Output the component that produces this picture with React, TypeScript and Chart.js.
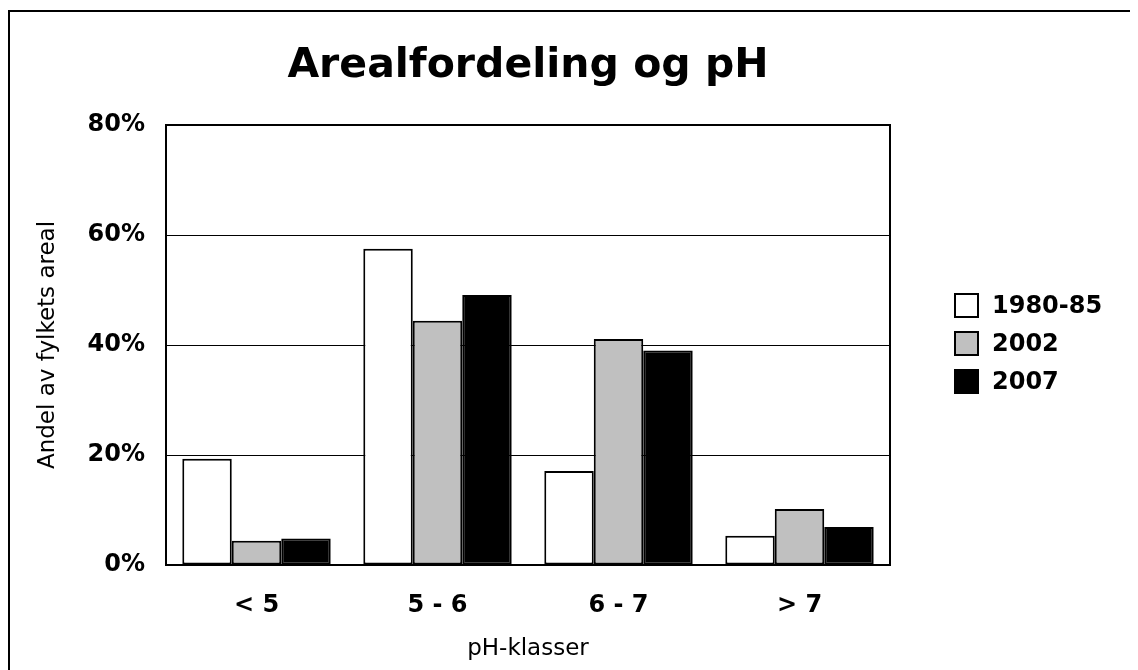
import React, { useEffect, useRef } from "react";
import { Chart, registerables } from "chart.js";

Chart.register(...registerables);

const categories = ["< 5", "5 - 6", "6 - 7", "> 7"];
const seriesNames = ["1980-85", "2002", "2007"];
const values1980 = [19.3, 57.5, 17.1, 5.3];
const values2002 = [4.4, 44.4, 41.1, 10.2];
const values2007 = [4.8, 49.1, 39.0, 6.9];
const seriesColors = ["#ffffff", "#c0c0c0", "#000000"];
const yTicks = [0, 20, 40, 60, 80];
const titleText = "Arealfordeling og pH";
const xTitle = "pH-klasser";
const yTitle = "Andel av fylkets areal";

const FONT = "'DejaVu Sans', Verdana, sans-serif";

const framePlugin = {
  id: "frame",
  beforeDraw(chart: any) {
    const ctx = chart.ctx;
    ctx.save();
    ctx.fillStyle = "#ffffff";
    ctx.fillRect(0, 0, chart.width, chart.height);
    ctx.fillStyle = "#000000";
    ctx.fillRect(0, 2, chart.width, 2);
    ctx.fillRect(0, 2, 2, chart.height);
    ctx.restore();
  },
  afterDatasetsDraw(chart: any) {
    const { ctx, chartArea } = chart;
    ctx.save();
    ctx.strokeStyle = "#000000";
    ctx.lineWidth = 2;
    ctx.strokeRect(
      chartArea.left,
      chartArea.top,
      chartArea.right - chartArea.left,
      chartArea.bottom - chartArea.top
    );
    ctx.restore();
  },
  afterDraw(chart: any) {
    const { ctx, chartArea } = chart;
    ctx.save();
    // title
    ctx.fillStyle = "#000000";
    ctx.font = `bold 41px ${FONT}`;
    ctx.textAlign = "center";
    ctx.textBaseline = "alphabetic";
    ctx.fillText(titleText, (chartArea.left + chartArea.right) / 2, 69);
    // legend
    const boxX = 946;
    const top0 = 285;
    const step = 38;
    const box = 25;
    chart.data.datasets.forEach((ds: any, i: number) => {
      const y = top0 + i * step;
      ctx.fillStyle = ds.backgroundColor;
      ctx.fillRect(boxX, y, box, box);
      ctx.strokeStyle = "#000000";
      ctx.lineWidth = 2;
      ctx.strokeRect(boxX + 1, y + 1, box - 2, box - 2);
      ctx.fillStyle = "#000000";
      ctx.font = `bold 24px ${FONT}`;
      ctx.textAlign = "left";
      ctx.textBaseline = "middle";
      ctx.fillText(ds.label, 984, y + box / 2 + 1);
    });
    ctx.restore();
  },
};

export default function App() {
  const ref = useRef<HTMLCanvasElement | null>(null);

  useEffect(() => {
    if (!ref.current) return;
    const allValues = [values1980, values2002, values2007];
    const chart = new Chart(ref.current, {
      type: "bar",
      data: {
        labels: categories,
        datasets: seriesNames.map((name, i) => ({
          label: name,
          data: allValues[i],
          backgroundColor: seriesColors[i],
          borderColor: "#000000",
          borderWidth: 2,
          borderSkipped: false,
          categoryPercentage: 0.82,
          barPercentage: 1,
        })),
      },
      options: {
        animation: false,
        responsive: false,
        devicePixelRatio: 1,
        layout: { padding: { left: 0, right: 248, top: 117, bottom: 0 } },
        plugins: {
          legend: { display: false },
          title: { display: false },
          tooltip: { enabled: false },
        },
        scales: {
          x: {
            grid: { display: false, drawTicks: false },
            border: { display: false },
            ticks: {
              color: "#000000",
              padding: 26,
              font: { family: FONT, size: 24, weight: "bold" },
            },
            title: {
              display: true,
              text: xTitle,
              color: "#000000",
              padding: { top: 0, bottom: 7 },
              font: { family: FONT, size: 23, weight: "normal" },
            },
            afterFit: (s: any) => {
              s.height = 105;
            },
          },
          y: {
            min: 0,
            max: 80,
            afterBuildTicks: (s: any) => {
              s.ticks = yTicks.map((v) => ({ value: v }));
            },
            grid: { color: "#000000", lineWidth: 1, drawTicks: false },
            border: { display: false },
            ticks: {
              color: "#000000",
              padding: 21,
              font: { family: FONT, size: 24, weight: "bold" },
              callback: (v: any) => `${v}%`,
            },
            title: {
              display: true,
              text: yTitle,
              color: "#000000",
              padding: { top: 26, bottom: 0 },
              font: { family: FONT, size: 23, weight: "normal" },
            },
            afterFit: (s: any) => {
              s.width = 158;
            },
          },
        },
      },
      plugins: [framePlugin],
    });
    return () => chart.destroy();
  }, []);

  return (
    <div style={{ width: 1130, height: 662 }}>
      <canvas ref={ref} width={1130} height={662} />
    </div>
  );
}
